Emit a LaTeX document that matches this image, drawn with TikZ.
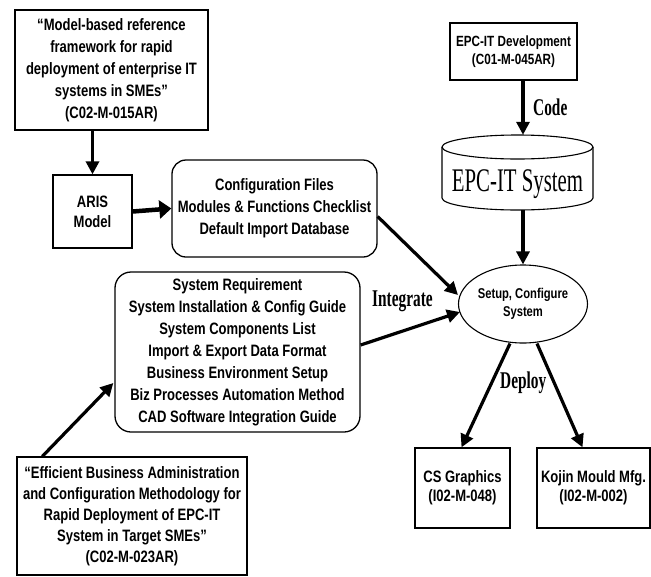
\documentclass[tikz,border=0pt]{standalone}
\usepackage{fontspec}
\setmainfont{Liberation Sans}
\newfontfamily\sansn[FakeStretch=0.79]{Liberation Sans}
\newfontfamily\serifn[FakeStretch=0.64]{Liberation Serif}
\newfontfamily\serifm[FakeStretch=0.63]{Liberation Serif}
\usetikzlibrary{arrows.meta,shapes.geometric,calc}
\begin{document}
\begin{tikzpicture}[x=1pt,y=-1pt,
  box/.style={draw, line width=1.3pt, inner sep=0pt, align=center,
    font=\sansn\bfseries\fontsize{16.5}{22}\selectfont},
  rbox/.style={box, rounded corners=14pt},
  arr/.style={line width=3.2pt, -{Triangle[length=13pt,width=13pt]}},
  lbl/.style={font=\serifn\bfseries\fontsize{24}{27}\selectfont, inner sep=0pt, anchor=base west}
]
\useasboundingbox (0,0) rectangle (651,576);

\node[box, minimum width=193pt, minimum height=120pt] (ref1) at (111.5,70)
  {“Model-based reference\\framework for rapid\\deployment of enterprise IT\\systems in SMEs”\\(C02-M-015AR)};
\node[box, minimum width=79pt, minimum height=73pt, font=\sansn\bfseries\fontsize{16.5}{20}\selectfont] (aris) at (92.5,211.5) {ARIS\\Model};
\node[rbox, minimum width=205pt, minimum height=97pt] (conf) at (274.5,208.5)
  {Configuration Files\\Modules \& Functions Checklist\\Default Import Database};
\node[rbox, rounded corners=16pt, minimum width=245pt, minimum height=160pt] (guide) at (237.5,352)
  {System Requirement\\System Installation \& Config Guide\\System Components List\\Import \& Export Data Format\\Business Environment Setup\\Biz Processes Automation Method\\CAD Software Integration Guide};
\node[box, minimum width=230pt, minimum height=118pt, font=\sansn\bfseries\fontsize{16.5}{21}\selectfont] (ref2) at (132,516)
  {“Efficient Business Administration\\and Configuration Methodology for\\Rapid Deployment of EPC-IT\\System in Target SMEs”\\(C02-M-023AR)};

\node[box, minimum width=127pt, minimum height=57pt, font=\sansn\bfseries\fontsize{14.8}{18}\selectfont] (dev) at (513.5,51.5)
  {EPC-IT Development\\(C01-M-045AR)};

% cylinder
\node[minimum width=151pt, minimum height=75pt, inner sep=0pt] (cyl) at (517.5,172.5) {};
\draw[line width=1.1pt] (517.5,147) ellipse [x radius=75.5pt, y radius=12pt];
\draw[line width=1.1pt] (442,147) -- (442,198) arc[start angle=180, end angle=360, x radius=75.5pt, y radius=12pt] -- (593,147);
\node[font=\serifm\fontsize{33}{36}\selectfont, inner sep=0pt, anchor=base] (cyltxt) at (517.5,191) {EPC-IT System};

\node[ellipse, draw, line width=1.1pt, minimum width=129pt, minimum height=78pt, inner sep=0pt, align=center,
  font=\sansn\bfseries\fontsize{14.2}{18}\selectfont] (setup) at (523,304) {Setup, Configure\\System};

\node[box, minimum width=95pt, minimum height=80pt, font=\sansn\bfseries\fontsize{16.5}{19}\selectfont] (cs) at (462.5,488)
  {CS Graphics\\(I02-M-048)};
\node[box, minimum width=113pt, minimum height=80pt, font=\sansn\bfseries\fontsize{16.5}{19}\selectfont] (kojin) at (593.5,488)
  {Kojin Mould Mfg.\\(I02-M-002)};

% connectors
\draw[arr] (aris.north |- ref1.south) -- (aris.north);
\draw[line width=4.5pt, -{Triangle[length=12pt,width=18pt]}] (aris.east) -- (conf.west);
\draw[arr] ($(ref2.north west)+(26,0)$) -- ($(guide.west)+(-1,31)$);
\draw[arr] (dev.south -| setup.north) -- (cyl.north -| setup.north);
\draw[arr] (cyl.south -| setup.north) -- (setup.north);
\draw[arr] ($(conf.east)+(0,8)$) -- ($(setup.center)+(-65,-9)$);
\draw[arr] ($(guide.east)+(0,-7)$) -- ($(setup.center)+(-63,8)$);
\draw[arr] ($(setup.south)+(-13,0)$) -- ($(cs.north)+(-1,0)$);
\draw[arr] ($(setup.south)+(14,0)$) -- ($(kojin.north)+(-11,0)$);

\node[lbl] (code) at (533,115) {Code};
\node[lbl] (integ) at (372,306.5) {Integrate};
\node[lbl] (deploy) at (500,388) {Deploy};
\end{tikzpicture}
\end{document}
